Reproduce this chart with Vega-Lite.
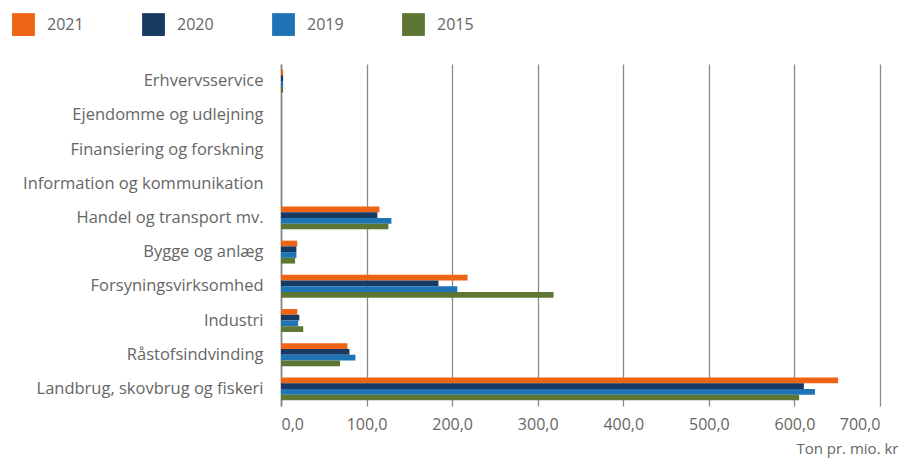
{
  "$schema": "https://vega.github.io/schema/vega-lite/v6.json",
  "autosize": {"type": "none"},
  "padding": {"left": 281, "top": 64, "right": 20, "bottom": 52},
  "width": 599,
  "height": 342,
  "background": "white",
  "data": {"values": [
    {"sector": "Erhvervsservice", "year": "2021", "value": 2.5},
    {"sector": "Erhvervsservice", "year": "2020", "value": 2.5},
    {"sector": "Erhvervsservice", "year": "2019", "value": 2.5},
    {"sector": "Erhvervsservice", "year": "2015", "value": 2.5},
    {"sector": "Ejendomme og udlejning", "year": "2021", "value": 0},
    {"sector": "Ejendomme og udlejning", "year": "2020", "value": 0},
    {"sector": "Ejendomme og udlejning", "year": "2019", "value": 0},
    {"sector": "Ejendomme og udlejning", "year": "2015", "value": 0},
    {"sector": "Finansiering og forskning", "year": "2021", "value": 0},
    {"sector": "Finansiering og forskning", "year": "2020", "value": 0},
    {"sector": "Finansiering og forskning", "year": "2019", "value": 0},
    {"sector": "Finansiering og forskning", "year": "2015", "value": 0},
    {"sector": "Information og kommunikation", "year": "2021", "value": 0},
    {"sector": "Information og kommunikation", "year": "2020", "value": 0},
    {"sector": "Information og kommunikation", "year": "2019", "value": 0},
    {"sector": "Information og kommunikation", "year": "2015", "value": 0},
    {"sector": "Handel og transport mv.", "year": "2021", "value": 115},
    {"sector": "Handel og transport mv.", "year": "2020", "value": 112.6},
    {"sector": "Handel og transport mv.", "year": "2019", "value": 129},
    {"sector": "Handel og transport mv.", "year": "2015", "value": 125.5},
    {"sector": "Bygge og anlæg", "year": "2021", "value": 19},
    {"sector": "Bygge og anlæg", "year": "2020", "value": 18},
    {"sector": "Bygge og anlæg", "year": "2019", "value": 18},
    {"sector": "Bygge og anlæg", "year": "2015", "value": 16.5},
    {"sector": "Forsyningsvirksomhed", "year": "2021", "value": 218},
    {"sector": "Forsyningsvirksomhed", "year": "2020", "value": 184},
    {"sector": "Forsyningsvirksomhed", "year": "2019", "value": 206},
    {"sector": "Forsyningsvirksomhed", "year": "2015", "value": 318.5},
    {"sector": "Industri", "year": "2021", "value": 19},
    {"sector": "Industri", "year": "2020", "value": 21.4},
    {"sector": "Industri", "year": "2019", "value": 20},
    {"sector": "Industri", "year": "2015", "value": 26},
    {"sector": "Råstofsindvinding", "year": "2021", "value": 77.6},
    {"sector": "Råstofsindvinding", "year": "2020", "value": 80},
    {"sector": "Råstofsindvinding", "year": "2019", "value": 87},
    {"sector": "Råstofsindvinding", "year": "2015", "value": 69},
    {"sector": "Landbrug, skovbrug og fiskeri", "year": "2021", "value": 651},
    {"sector": "Landbrug, skovbrug og fiskeri", "year": "2020", "value": 611},
    {"sector": "Landbrug, skovbrug og fiskeri", "year": "2019", "value": 624},
    {"sector": "Landbrug, skovbrug og fiskeri", "year": "2015", "value": 605.5}
  ]},
  "mark": {"type": "bar"},
  "encoding": {
    "y": {
      "field": "sector", "type": "nominal", "sort": null,
      "scale": {"paddingInner": 0.33, "paddingOuter": 0.165},
      "axis": {
        "title": null, "ticks": false, "labelPadding": 18, "labelFontSize": 16.5,
        "labelColor": "#666666", "labelFont": "Open Sans", "domainColor": "#7f7f7f",
        "domainWidth": 1.5, "labelLimit": 300
      }
    },
    "yOffset": {"field": "year", "type": "nominal", "sort": ["2021", "2020", "2019", "2015"]},
    "x": {
      "field": "value", "type": "quantitative",
      "scale": {"domain": [0, 700], "nice": false},
      "axis": {
        "values": [0, 100, 200, 300, 400, 500, 600, 700],
        "labelExpr": "replace(format(datum.value, '.1f'), '.', ',')",
        "title": "Ton pr. mio. kr", "titleAnchor": "end", "titleAlign": "right",
        "titleBaseline": "alphabetic",
        "titleX": 617, "titleY": 47, "titleFontSize": 15, "titleFontWeight": "normal",
        "titleColor": "#666666", "titleFont": "Open Sans",
        "labelFontSize": 16, "labelColor": "#666666", "labelFont": "Open Sans",
        "labelPadding": 10, "ticks": false, "domain": false,
        "grid": true, "gridColor": "#8a8a8a", "gridWidth": 1.3
      }
    },
    "color": {
      "field": "year", "type": "nominal",
      "scale": {"domain": ["2021", "2020", "2019", "2015"], "range": ["#EE6314", "#173A63", "#1F74B5", "#5E7634"]},
      "legend": {
        "title": null, "orient": "none", "direction": "horizontal", "columns": 4,
        "legendX": -269, "legendY": -51, "symbolType": "square", "symbolSize": 520,
        "symbolStrokeWidth": 0, "labelFontSize": 16, "labelColor": "#666666",
        "labelFont": "Open Sans", "labelOffset": 12, "columnPadding": 58
      }
    }
  },
  "config": {"view": {"stroke": null}, "axis": {"zindex": 0}}
}
